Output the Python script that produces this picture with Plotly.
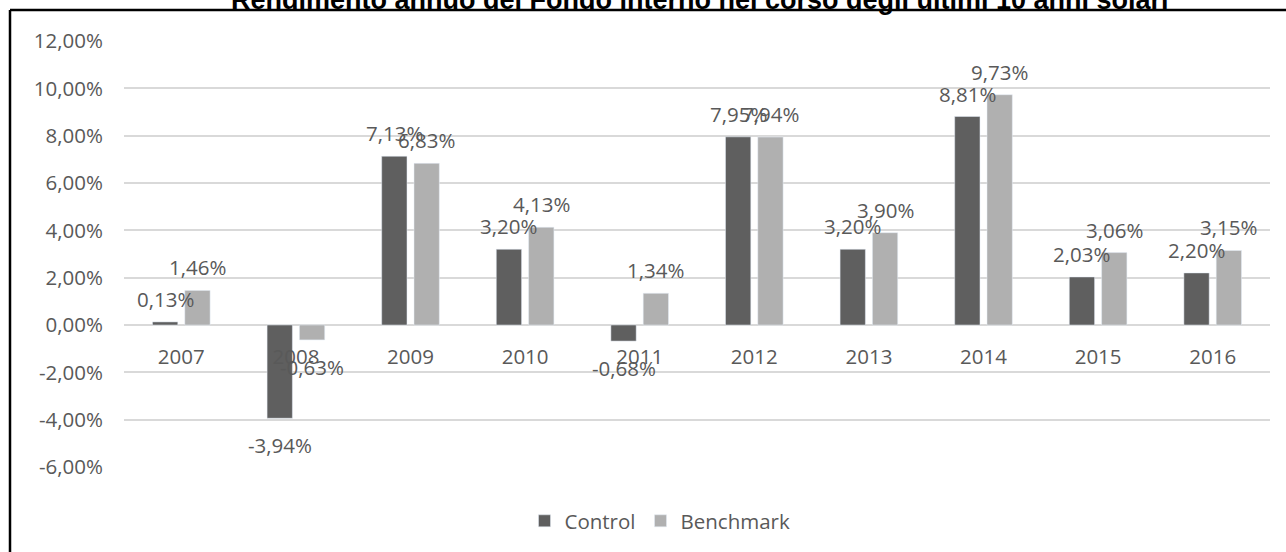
import plotly.graph_objects as go

years = ["2007", "2008", "2009", "2010", "2011", "2012", "2013", "2014", "2015", "2016"]
control = [0.13, -3.94, 7.13, 3.20, -0.68, 7.95, 3.20, 8.81, 2.03, 2.20]
benchmark = [1.46, -0.63, 6.83, 4.13, 1.34, 7.94, 3.90, 9.73, 3.06, 3.15]
y_ticks = [12, 10, 8, 6, 4, 2, 0, -2, -4, -6]
y_ticktext = ["12,00%", "10,00%", "8,00%", "6,00%", "4,00%", "2,00%", "0,00%", "-2,00%", "-4,00%", "-6,00%"]
title_text = "Rendimento annuo del Fondo interno nel corso degli ultimi 10 anni solari"

W, H = 1286, 552
L, R, T, B = 124, 16, 41, 84
pw, ph = W - L - R, H - T - B
GRAY = "#595959"
FONT = "Open Sans"
FS = 20.5

def px_x(p):
    return (p - L) / pw

def px_y(p):
    return (H - B - p) / ph

def fmt(v):
    return f"{v:.2f}".replace(".", ",") + "%"

fig = go.Figure()
fig.add_trace(go.Bar(name="Control", x=years, y=control, marker=dict(color="#5f5f5f")))
fig.add_trace(go.Bar(name="Benchmark", x=years, y=benchmark, marker=dict(color="#b0b0b0")))

slot = 0.5 * (1 - 0.436) * pw / len(years)
annotations = []
for series, shift in ((control, -slot / 2), (benchmark, slot / 2)):
    for i, v in enumerate(series):
        annotations.append(dict(
            x=i, y=v, xref="x", yref="y", text=fmt(v), showarrow=False,
            xshift=shift, yshift=23 if v >= 0 else -27, yanchor="middle",
            font=dict(family=FONT, size=FS, color=GRAY)))

annotations.append(dict(
    x=px_x(700), y=px_y(17), xref="paper", yref="paper", text="<b>" + title_text + "</b>",
    showarrow=False, xanchor="center", yanchor="bottom",
    font=dict(family="Arial", size=27, color="black")))

shapes = [
    dict(type="line", xref="paper", yref="paper", x0=px_x(10), x1=px_x(1300), y0=px_y(10), y1=px_y(10),
         line=dict(color="black", width=2.5)),
    dict(type="line", xref="paper", yref="paper", x0=px_x(10), x1=px_x(10), y0=px_y(10), y1=px_y(570),
         line=dict(color="black", width=2.5)),
]

fig.update_layout(
    width=W, height=H,
    margin=dict(l=L, r=R, t=T, b=B),
    paper_bgcolor="white", plot_bgcolor="white",
    barmode="group", bargap=0.436, bargroupgap=0.217,
    font=dict(family=FONT, size=FS, color=GRAY),
    showlegend=True,
    legend=dict(orientation="h", x=px_x(660), xanchor="center", y=px_y(521), yanchor="middle",
                font=dict(family=FONT, size=FS, color=GRAY), traceorder="normal"),
    annotations=annotations,
    shapes=shapes,
    xaxis=dict(type="category", categoryorder="array", categoryarray=years, range=[-0.5, len(years) - 0.5],
               anchor="free", position=1/3, showline=False, showgrid=False, ticks="",
               tickfont=dict(family=FONT, size=FS, color=GRAY), ticklabelstandoff=17),
    yaxis=dict(range=[-6, 12], tickvals=y_ticks, ticktext=y_ticktext, showgrid=True,
               gridcolor="#d9d9d9", gridwidth=1.5, zeroline=True, zerolinecolor="#d9d9d9",
               zerolinewidth=1.5, showline=False, ticks="", ticklabelstandoff=20,
               tickfont=dict(family=FONT, size=FS, color=GRAY)),
)

fig.write_html("out.html")
